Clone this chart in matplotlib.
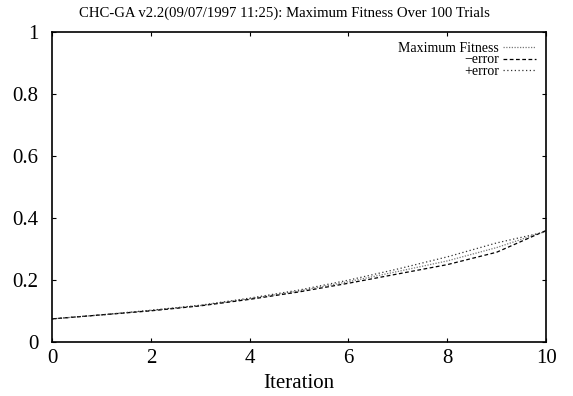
import matplotlib
matplotlib.use("Agg")
import matplotlib.pyplot as plt

# datos
iteracion = [0, 1, 2, 3, 4, 5, 6, 7, 8, 9, 10]
fitness_max = [0.075, 0.088, 0.102, 0.118, 0.140, 0.165, 0.195, 0.228, 0.262, 0.305, 0.358]
menos_error = [0.075, 0.088, 0.101, 0.117, 0.138, 0.162, 0.190, 0.220, 0.250, 0.290, 0.360]
mas_error = [0.075, 0.088, 0.103, 0.119, 0.142, 0.168, 0.200, 0.236, 0.275, 0.320, 0.356]

plt.rcParams['font.family'] = ['Liberation Serif', 'DejaVu Serif']

fig = plt.figure(figsize=(5.73, 3.96), dpi=100)
ax = fig.add_axes([0.091, 0.136, 0.862, 0.783])

ax.plot(iteracion, fitness_max, color='#777777', linestyle=(0, (1, 1.2)), linewidth=0.9, label='Maximum Fitness')
ax.plot(iteracion, menos_error, color='black', linestyle=(0, (3, 2)), linewidth=0.9, label='\u2212error')
ax.plot(iteracion, mas_error, color='#333333', linestyle=(0, (1, 2)), linewidth=0.9, label='+error')

ax.set_xlim(0, 10)
ax.set_ylim(0, 1)
ax.set_xticks([0, 2, 4, 6, 8, 10])
ax.set_yticks([0, 0.2, 0.4, 0.6, 0.8, 1])
ax.set_yticklabels(['0', '0.2', '0.4', '0.6', '0.8', '1'])
ax.tick_params(direction='in', top=True, right=True, labelsize=15, length=3)
ax.tick_params(axis='y', pad=10)
ax.tick_params(axis='x', pad=5)
for s in ax.spines.values():
    s.set_linewidth(1.2)

fig.text(0.496, 0.967, 'CHC-GA v2.2(09/07/1997 11:25): Maximum Fitness Over 100 Trials',
         fontsize=10.6, ha='center', va='center')
ax.set_xlabel('Iteration', fontsize=15, labelpad=4)

leg = ax.legend(loc='upper right', frameon=False, markerfirst=False, fontsize=10,
                handlelength=2.4, handletextpad=0.3, labelspacing=-0.1,
                borderaxespad=0.3, alignment='right')
for t in leg.get_texts():
    t.set_ha('right')

plt.savefig('out.png', dpi=100)
plt.close()
